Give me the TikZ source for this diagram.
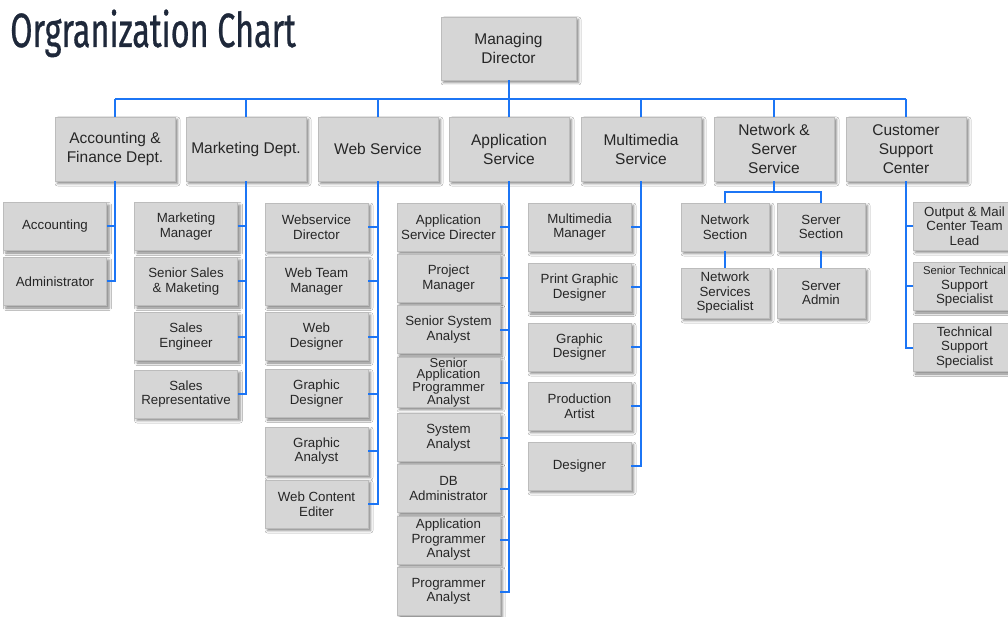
\documentclass[tikz,border=0pt]{standalone}
\usepackage{fontspec}
\setmainfont{Liberation Sans}
\newfontfamily\titlefont[FakeBold=0.8]{Fira Sans}
\usetikzlibrary{shadows.blur}

\definecolor{linkblue}{RGB}{28,117,245}
\definecolor{boxfill}{RGB}{214,214,214}
\definecolor{boxline}{RGB}{188,188,188}
\definecolor{txt}{RGB}{38,38,38}
\definecolor{titlecol}{RGB}{30,40,58}

\tikzset{
 box/.style={draw=boxline, fill=boxfill, line width=0.8pt, inner sep=0pt, align=center, text=txt,
   blur shadow={shadow xshift=2.5pt, shadow yshift=-2.5pt, shadow blur radius=2.5pt, shadow opacity=50}},
 topbox/.style={box, minimum width=135pt, minimum height=63pt, font=\fontsize{15.5}{19}\selectfont},
 dept/.style={box, minimum width=120pt, minimum height=64pt, font=\fontsize{15.5}{19}\selectfont},
 role/.style={box, minimum width=103pt, minimum height=48pt, font=\fontsize{13.3}{14.5}\selectfont},
 netrole/.style={role, minimum width=88pt},
 tight/.style={font=\fontsize{13}{11.5}\selectfont},
 conn/.style={draw=linkblue, line width=2pt},
}

\begin{document}
\begin{tikzpicture}[x=1pt,y=-1pt]
\clip (0,0) rectangle (1008,617);
\fill[white] (0,0) rectangle (1008,617);

% title
\node[anchor=base west, inner sep=0pt, text=titlecol, font=\titlefont\fontsize{48}{50}\selectfont] (title) at (10,47)
  {\scalebox{0.675}[1]{Orgranization Chart}};

% top
\node[topbox] (md) at (508.5,48.5) {Managing\\Director};

% departments
\node[dept] (accd) at (115,149) {Accounting \&\\Finance Dept.};
\node[dept] (mkt)  at (246,149) {Marketing Dept.};
\node[dept] (web)  at (378,149) {Web Service};
\node[dept] (app)  at (509,149) {Application\\Service};
\node[dept] (mm)   at (641,149) {Multimedia\\Service};
\node[dept] (net)  at (774,149) {Network \&\\Server\\Service};
\node[dept] (cust) at (906,149) {Customer\\Support\\Center};

% accounting
\node[role] (acc1) at (55,226.5) {Accounting};
\node[role] (acc2) at (55,281.5) {Administrator};

% marketing
\node[role] (mk1) at (186,226.5) {Marketing\\Manager};
\node[role] (mk2) at (186,281.5) {Senior Sales\\\& Maketing};
\node[role] (mk3) at (186,336.5) {Sales\\Engineer};
\node[role] (mk4) at (186,394) {Sales\\Representative};

% web
\node[role] (w1) at (316.5,227) {Webservice\\Director};
\node[role] (w2) at (316.5,281.5) {Web Team\\Manager};
\node[role] (w3) at (316.5,336.5) {Web\\Designer};
\node[role] (w4) at (316.5,393.5) {Graphic\\Designer};
\node[role] (w5) at (316.5,451) {Graphic\\Analyst};
\node[role] (w6) at (316.5,504) {Web Content\\Editer};

% application
\node[role] (a1) at (448.5,227) {Application\\Service Directer};
\node[role] (a2) at (448.5,278.5) {Project\\Manager};
\node[role] (a3) at (448.5,329.5) {Senior System\\Analyst};
\node[role,tight] (a4) at (448.5,382.5) {Senior\\Application\\Programmer\\Analyst};
\node[role] (a5) at (448.5,437.5) {System\\Analyst};
\node[role] (a6) at (448.5,488.5) {DB\\Administrator};
\node[role] (a7) at (448.5,540) {Application\\Programmer\\Analyst};
\node[role] (a8) at (448.5,591.5) {Programmer\\Analyst};

% multimedia
\node[role] (m1) at (579.5,227) {Multimedia\\Manager};
\node[role] (m2) at (579.5,287.5) {Print Graphic\\Designer};
\node[role] (m3) at (579.5,347) {Graphic\\Designer};
\node[role] (m4) at (579.5,406) {Production\\Artist};
\node[role] (m5) at (579.5,466) {Designer};

% network
\node[netrole] (ns)  at (725,227) {Network\\Section};
\node[netrole] (ss)  at (821,227) {Server\\Section};
\node[netrole, minimum height=50pt] (nsp) at (725,293) {Network\\Services\\Specialist};
\node[netrole, minimum height=50pt] (sa)  at (821,293) {Server\\Admin};

% customer
\node[role] (c1) at (964.5,226) {Output \& Mail\\Center Team\\Lead};
\node[role] (c2) at (964.5,286.5) {{\fontsize{11.3}{14.5}\selectfont Senior Technical}\\Support\\Specialist};
\node[role] (c3) at (964.5,347.5) {Technical\\Support\\Specialist};

% connectors: top bus
\coordinate (bus) at (0,99);
\draw[conn] (md.south) -- (md.south |- bus);
\draw[conn] (accd.north |- bus) -- (cust.north |- bus);
\foreach \d in {accd,mkt,web,app,mm,net,cust}
  \draw[conn] (\d.north) -- (\d.north |- bus);

% connectors: children
\foreach \c in {acc1,acc2} \draw[conn] (\c.east) -| (accd.south);
\foreach \c in {mk1,mk2,mk3,mk4} \draw[conn] (\c.east) -| (mkt.south);
\foreach \c in {w1,w2,w3,w4,w5,w6} \draw[conn] (\c.east) -| (web.south);
\foreach \c in {a1,a2,a3,a4,a5,a6,a7,a8} \draw[conn] (\c.east) -| (app.south);
\foreach \c in {m1,m2,m3,m4,m5} \draw[conn] (\c.east) -| (mm.south);
\foreach \c in {c1,c2,c3} \draw[conn] (\c.west) -| (cust.south);

% network sub-tree
\coordinate (nbus) at (0,192);
\draw[conn] (net.south) -- (net.south |- nbus);
\draw[conn] (ns.north) -- (ns.north |- nbus) -| (ss.north);
\draw[conn] (ns.south) -- (nsp.north);
\draw[conn] (ss.south) -- (sa.north);
\end{tikzpicture}
\end{document}
